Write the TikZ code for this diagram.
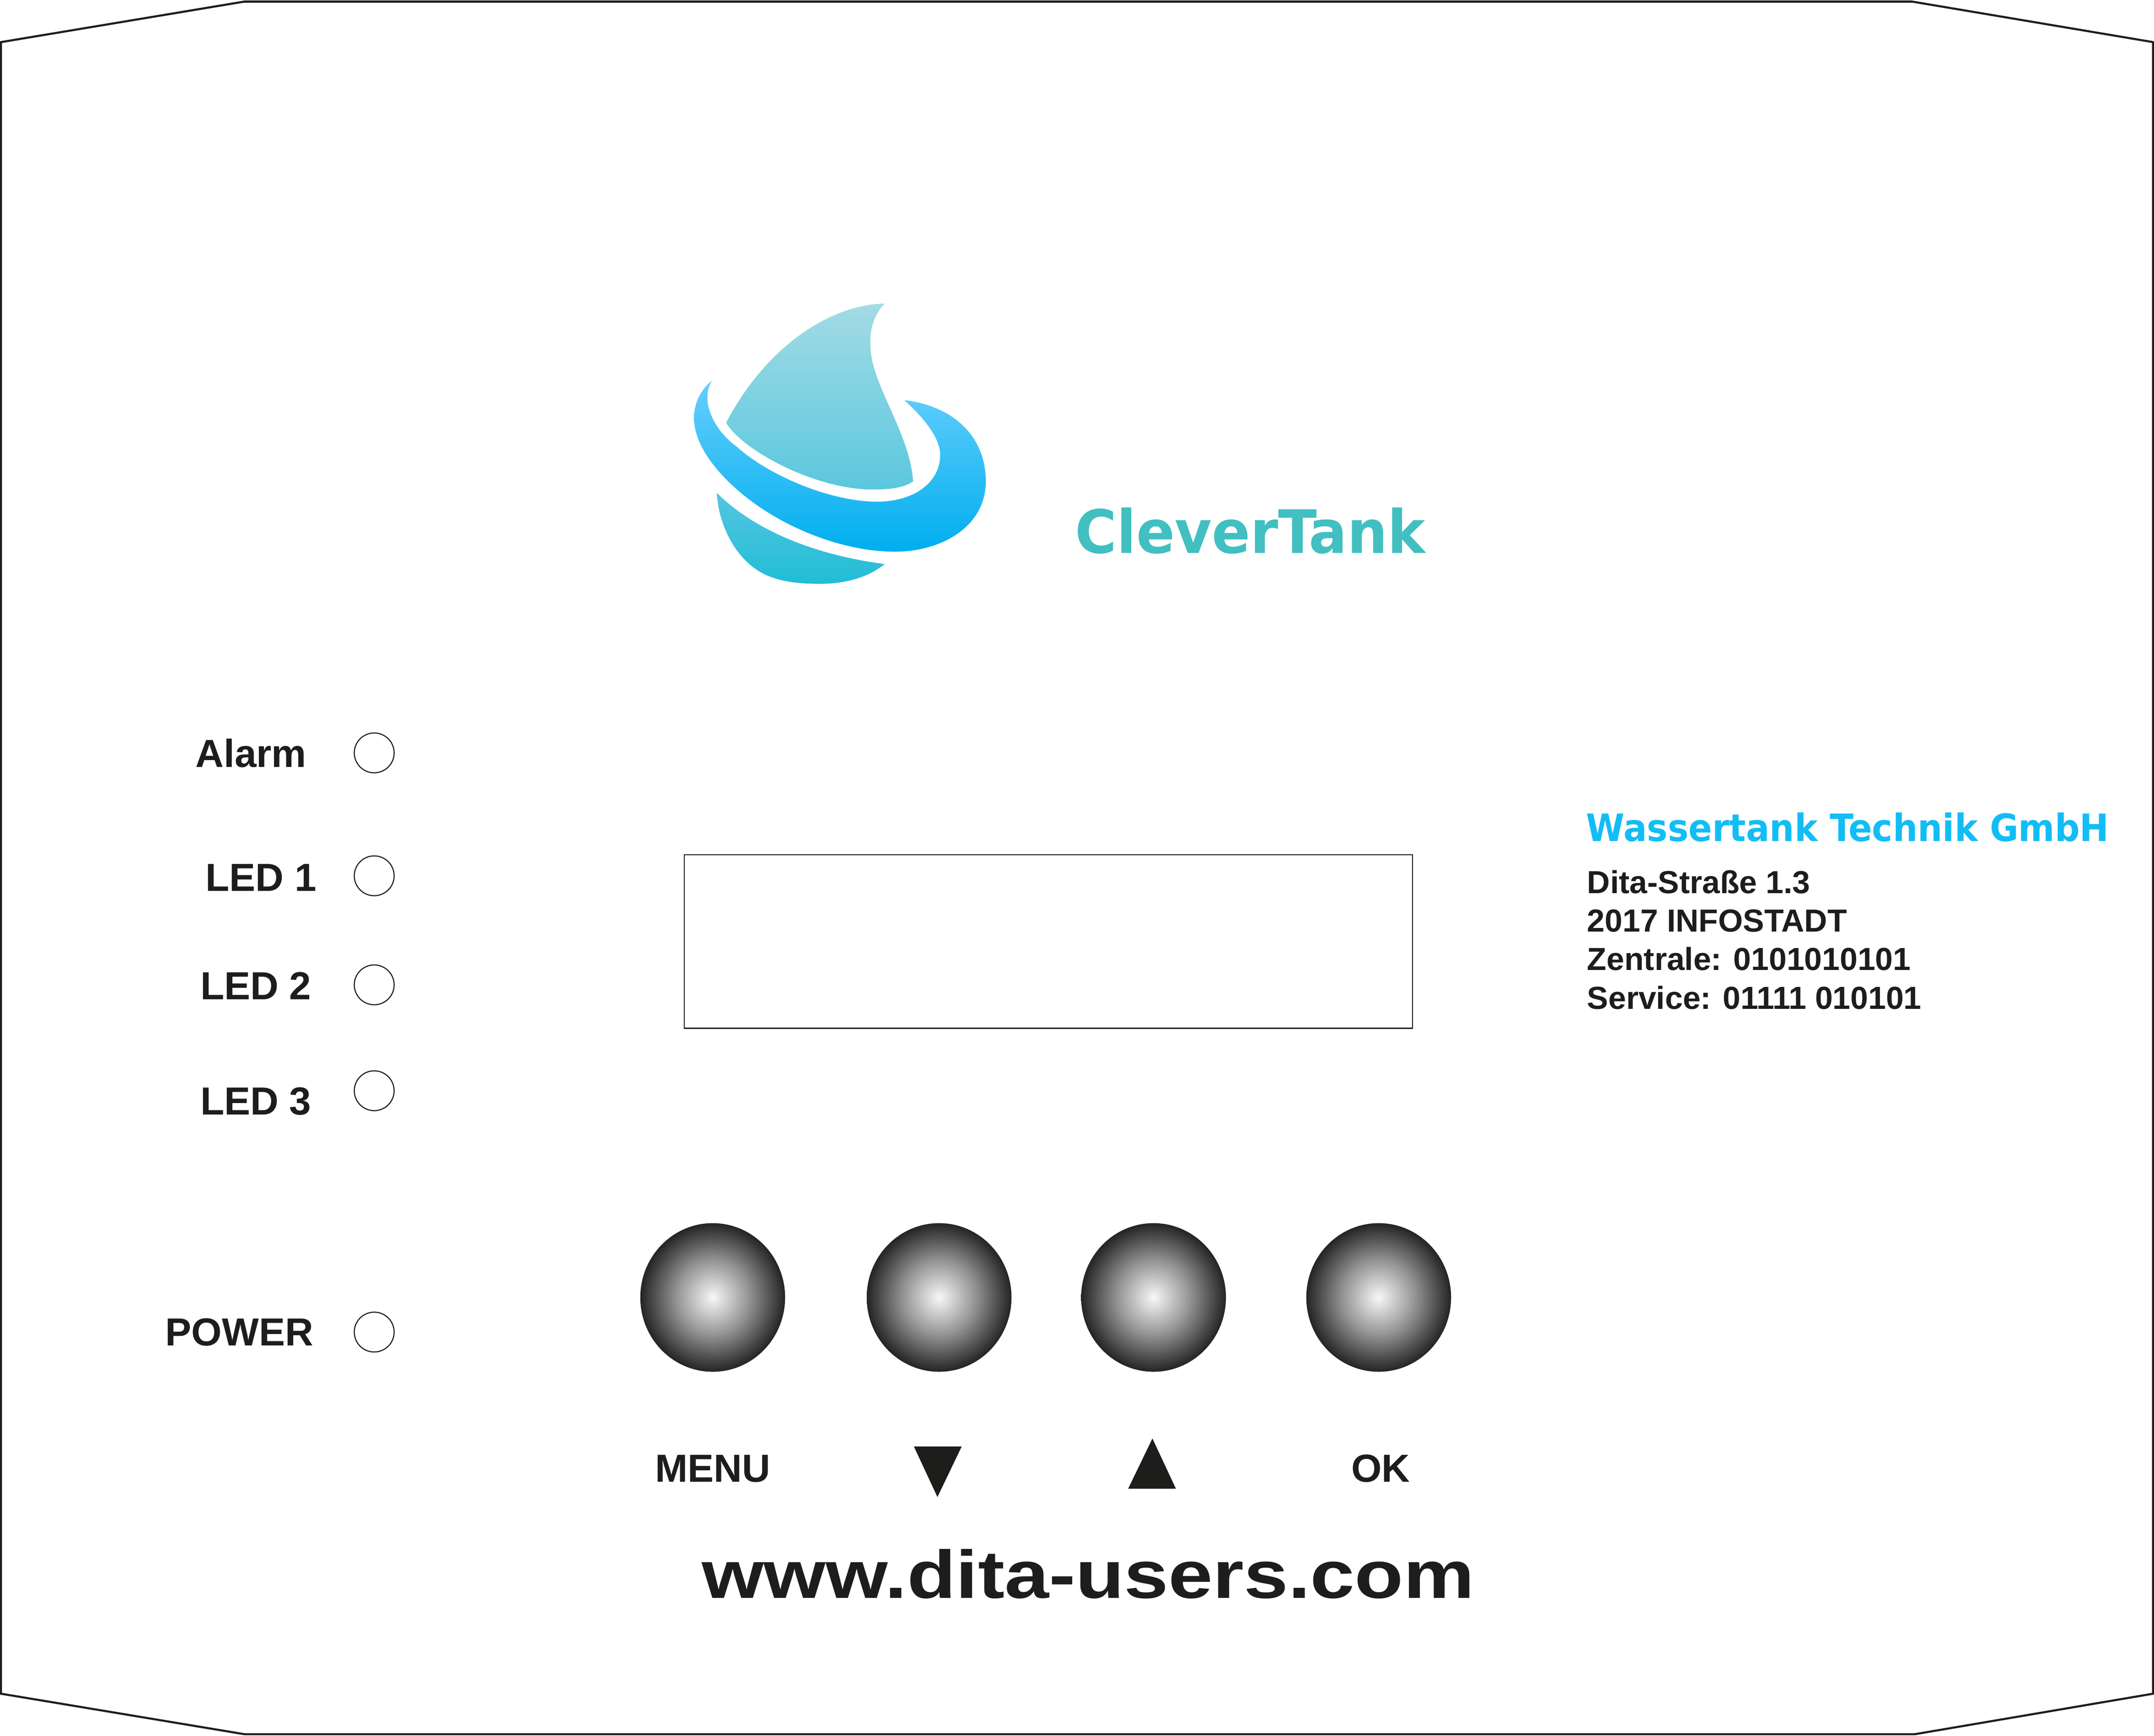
\documentclass[tikz,border=0pt]{standalone}
\usepackage{fontspec}
\setmainfont{Liberation Sans}
\newfontfamily\brandfont{DejaVu Sans Condensed}[BoldFont={DejaVu Sans Condensed Bold}]
\definecolor{inkblack}{HTML}{1D1D1B}
\definecolor{logoteal}{HTML}{41BFC1}
\definecolor{logoblue}{HTML}{12BDF6}
\definecolor{dropfinhigh}{HTML}{A3DBE5}
\definecolor{dropfinlow}{HTML}{5AC7DE}
\definecolor{ringhigh}{HTML}{66CFFC}
\definecolor{ringmid}{HTML}{00BBF7}
\definecolor{ringlow}{HTML}{00AEEF}
\definecolor{dropbasehigh}{HTML}{55C5E0}
\definecolor{dropbaselow}{HTML}{21BDD6}
\pgfdeclareradialshading{buttonball}{\pgfpoint{0bp}{0bp}}{color(0bp)=(black!3); color(12.5bp)=(black!42); color(25bp)=(black!86); color(50bp)=(black!86)}
\tikzset{
    outline/.style={inkblack, line width=0.43pt},
    display/.style={inkblack, line width=0.22pt},
    ledring/.style={inkblack, line width=0.22pt},
    keycap/.style={shading=buttonball},
    plain/.style={anchor=base west, inner sep=0pt, text=inkblack},
    panellabel/.style={plain, font=\fontsize{8.1}{10}\selectfont\bfseries},
    addressline/.style={plain, font=\fontsize{6.6}{8}\selectfont\bfseries},
    weblabel/.style={plain, font=\fontsize{14}{16}\selectfont\bfseries, xscale=1.18},
    brandname/.style={anchor=base west, inner sep=0pt, text=logoteal, xscale=1.054, font=\fontsize{12.4}{14}\selectfont\brandfont\bfseries},
    firmname/.style={anchor=base west, inner sep=0pt, text=logoblue, xscale=1.03, font=\fontsize{7.8}{9}\selectfont\brandfont\bfseries},
}

\begin{document}
\begin{tikzpicture}
    \useasboundingbox (0, 0) rectangle (15.68, 12.637);

    \draw[outline] (0.007, 12.33) -- (1.778, 12.625) -- (13.92, 12.625) -- (15.673, 12.33)
        -- (15.673, 0.305) -- (13.938, 0.01) -- (1.78, 0.01) -- (0.007, 0.305) -- cycle;

    \shade[top color=dropfinhigh, bottom color=dropfinlow]
        (6.44, 10.426) .. controls (6.05, 10.42) and (5.58, 10.12) .. (5.286, 9.559)
        .. controls (5.40, 9.36) and (5.95, 9.06) .. (6.38, 9.073)
        .. controls (6.5, 9.075) and (6.59, 9.09) .. (6.647, 9.133)
        .. controls (6.62, 9.50) and (6.33, 9.85) .. (6.337, 10.129)
        .. controls (6.325, 10.25) and (6.38, 10.37) .. (6.44, 10.426) -- cycle;
    \shade[top color=ringhigh, middle color=ringmid, bottom color=ringlow]
        (5.184, 9.866) .. controls (5.10, 9.80) and (5.052, 9.70) .. (5.052, 9.594)
        .. controls (5.052, 9.38) and (5.25, 9.15) .. (5.475, 8.984)
        .. controls (5.75, 8.78) and (6.15, 8.62) .. (6.515, 8.62)
        .. controls (6.85, 8.62) and (7.176, 8.80) .. (7.176, 9.133)
        .. controls (7.176, 9.45) and (6.95, 9.68) .. (6.583, 9.723)
        .. controls (6.72, 9.60) and (6.844, 9.45) .. (6.844, 9.326)
        .. controls (6.844, 9.12) and (6.65, 8.984) .. (6.383, 8.984)
        .. controls (6.05, 8.984) and (5.6, 9.17) .. (5.362, 9.385)
        .. controls (5.2, 9.5) and (5.09, 9.72) .. (5.184, 9.866) -- cycle;
    \shade[top color=dropbasehigh, bottom color=dropbaselow]
        (5.218, 9.048) .. controls (5.23, 8.82) and (5.35, 8.57) .. (5.551, 8.463)
        .. controls (5.67, 8.40) and (5.82, 8.386) .. (5.967, 8.386)
        .. controls (6.17, 8.386) and (6.33, 8.44) .. (6.439, 8.53)
        .. controls (6.05, 8.58) and (5.55, 8.72) .. (5.218, 9.048) -- cycle;
    \node[brandname] (brand) at (7.82, 8.61) {CleverTank};

    \node[panellabel] (alarmlabel) at (1.417, 7.05) {Alarm};
    \node[panellabel] (ledonelabel) at (1.49, 6.15) {LED 1};
    \node[panellabel] (ledtwolabel) at (1.452, 5.36) {LED 2};
    \node[panellabel] (ledthreelabel) at (1.452, 4.52) {LED 3};
    \node[panellabel] (powerlabel) at (1.198, 2.84) {POWER};
    \draw[ledring] (2.724, 7.155) circle (0.145);
    \draw[ledring] (2.724, 6.26) circle (0.145);
    \draw[ledring] (2.724, 5.466) circle (0.145);
    \draw[ledring] (2.724, 4.695) circle (0.145);
    \draw[ledring] (2.724, 2.938) circle (0.145);

    \draw[display] (4.982, 6.413) rectangle (10.283, 5.15);

    \node[firmname] (firm) at (11.54, 6.51) {Wassertank Technik GmbH};
    \node[addressline] (street) at (11.547, 6.132) {Dita-Straße 1.3};
    \node[addressline] (city) at (11.547, 5.852) {2017 INFOSTADT};
    \node[addressline] (central) at (11.547, 5.572) {Zentrale: 0101010101};
    \node[addressline] (service) at (11.547, 5.29) {Service: 01111 010101};

    \shade[keycap] (5.188, 3.19) ellipse (0.527 and 0.541);
    \shade[keycap] (6.836, 3.19) ellipse (0.527 and 0.541);
    \shade[keycap] (8.397, 3.19) ellipse (0.527 and 0.541);
    \shade[keycap] (10.036, 3.19) ellipse (0.527 and 0.541);

    \node[panellabel] (menulabel) at (4.762, 1.847) {MENU};
    \fill[inkblack] (6.653, 2.104) -- (7.0, 2.104) -- (6.824, 1.737) -- cycle;
    \fill[inkblack] (8.389, 2.163) -- (8.212, 1.797) -- (8.56, 1.797) -- cycle;
    \node[panellabel] (oklabel) at (9.83, 1.847) {OK};

    \node[weblabel] (website) at (5.10, 1.0) {www.dita-users.com};
\end{tikzpicture}
\end{document}
